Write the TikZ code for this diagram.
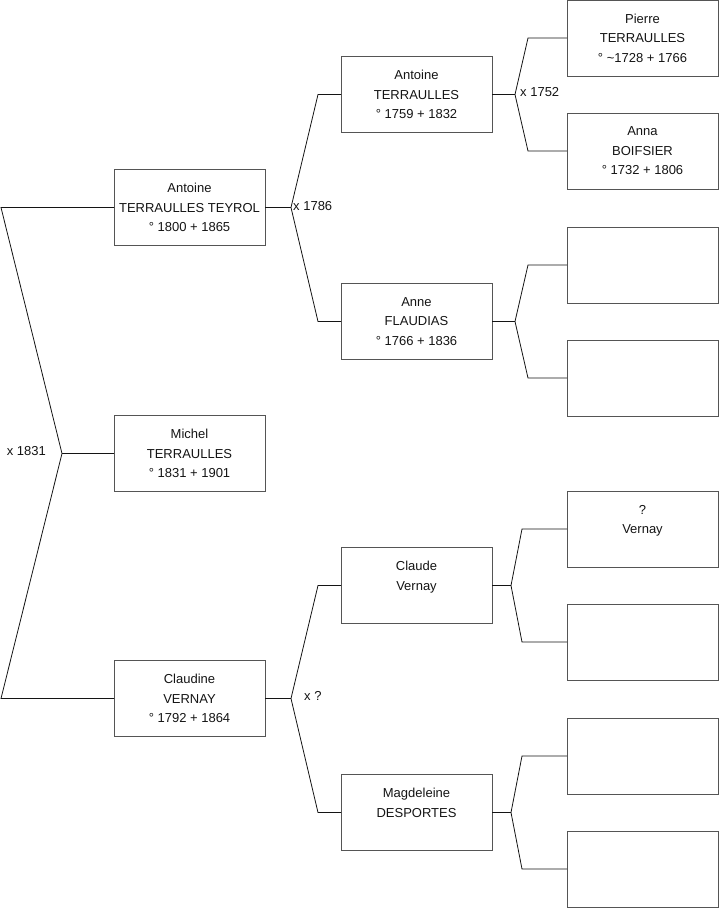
\documentclass[tikz,border=0pt]{standalone}
\usepackage{fontspec}
\setmainfont{Liberation Sans}
\usetikzlibrary{positioning}
\definecolor{boxgrey}{RGB}{85,85,85}
\definecolor{ink}{RGB}{20,20,20}

\begin{document}
\begin{tikzpicture}[x=1pt,y=-1pt,node distance=37pt]
        \tikzstyle{personbox}=[draw=boxgrey,line width=0.9pt,minimum width=151pt,minimum height=76pt,align=center,inner sep=0pt,outer sep=0pt,text=ink,font=\fontsize{13}{19.5}\selectfont]
        \tikzstyle{branch}=[draw=ink,line width=0.8pt]
        \tikzstyle{marriage}=[inner sep=2pt,text=ink,font=\fontsize{13}{15}\selectfont]
        \useasboundingbox (0,0) rectangle (719,908);
        % generation 1 and 2
        \node[personbox] (teyrol) at (189.5,207.5) {Antoine\\TERRAULLES TEYROL\\° 1800 + 1865};
        \node[personbox] (michel) at (189.5,453.5) {Michel\\TERRAULLES\\° 1831 + 1901};
        \node[personbox] (claudine) at (189.5,698.5) {Claudine\\VERNAY\\° 1792 + 1864};
        % generation 3
        \node[personbox] (antoine) at (416.5,94.5) {Antoine\\TERRAULLES\\° 1759 + 1832};
        \node[personbox] (anne) at (416.5,321.5) {Anne\\FLAUDIAS\\° 1766 + 1836};
        \node[personbox] (claude) at (416.5,585.5) {Claude\\Vernay\\~};
        \node[personbox] (magdeleine) at (416.5,812.5) {Magdeleine\\DESPORTES\\~};
        % generation 4
        \node[personbox] (pierre) at (642.5,38) {Pierre\\TERRAULLES\\° \textasciitilde1728 + 1766};
        \node[personbox,below=of pierre] (anna) {Anna\\BOIFSIER\\° 1732 + 1806};
        \node[personbox] (annefa) at (642.5,265) {};
        \node[personbox,below=of annefa] (annemo) {};
        \node[personbox] (vernay) at (642.5,529) {?\\Vernay\\~};
        \node[personbox,below=of vernay] (claudemo) {};
        \node[personbox] (magdfa) at (642.5,756) {};
        \node[personbox,below=of magdfa] (magdmo) {};
        % forks
        \coordinate (fmichel) at (62,453.5);
        \coordinate (fmichelup) at (1,207.5);
        \coordinate (fmicheldown) at (1,698.5);
        \coordinate (fteyrol) at (291,207.5);
        \coordinate (fteyrolup) at (318,94.5);
        \coordinate (fteyroldown) at (318,321.5);
        \coordinate (fclaudine) at (291,698.5);
        \coordinate (fclaudineup) at (318,585.5);
        \coordinate (fclaudinedown) at (318,812.5);
        \coordinate (fantoine) at (515,94.5);
        \coordinate (fantoineup) at (528,38);
        \coordinate (fantoinedown) at (528,151);
        \coordinate (fanne) at (515,321.5);
        \coordinate (fanneup) at (528,265);
        \coordinate (fannedown) at (528,378);
        \coordinate (fclaude) at (511,585.5);
        \coordinate (fclaudeup) at (522,529);
        \coordinate (fclaudedown) at (522,642);
        \coordinate (fmagd) at (511,812.5);
        \coordinate (fmagdup) at (522,756);
        \coordinate (fmagddown) at (522,869);
        \draw[branch] (michel.west) -- (fmichel);
        \draw[branch] (fmichel) -- (fmichelup) -- (teyrol.west);
        \draw[branch] (fmichel) -- (fmicheldown) -- (claudine.west);
        \draw[branch] (teyrol.east) -- (fteyrol);
        \draw[branch] (fteyrol) -- (fteyrolup) -- (antoine.west);
        \draw[branch] (fteyrol) -- (fteyroldown) -- (anne.west);
        \draw[branch] (claudine.east) -- (fclaudine);
        \draw[branch] (fclaudine) -- (fclaudineup) -- (claude.west);
        \draw[branch] (fclaudine) -- (fclaudinedown) -- (magdeleine.west);
        \draw[branch] (antoine.east) -- (fantoine);
        \draw[branch] (fantoine) -- (fantoineup) -- (pierre.west);
        \draw[branch] (fantoine) -- (fantoinedown) -- (anna.west);
        \draw[branch] (anne.east) -- (fanne);
        \draw[branch] (fanne) -- (fanneup) -- (annefa.west);
        \draw[branch] (fanne) -- (fannedown) -- (annemo.west);
        \draw[branch] (claude.east) -- (fclaude);
        \draw[branch] (fclaude) -- (fclaudeup) -- (vernay.west);
        \draw[branch] (fclaude) -- (fclaudedown) -- (claudemo.west);
        \draw[branch] (magdeleine.east) -- (fmagd);
        \draw[branch] (fmagd) -- (fmagdup) -- (magdfa.west);
        \draw[branch] (fmagd) -- (fmagddown) -- (magdmo.west);
        % marriage dates
        \node[marriage,anchor=east] (m1831) at (48,451) {x 1831};
        \node[marriage,anchor=west] (m1786) at (291,206) {x 1786};
        \node[marriage,anchor=west] (munknown) at (302,696) {x ?};
        \node[marriage,anchor=west] (m1752) at (518,92) {x 1752};
      \end{tikzpicture}
\end{document}
